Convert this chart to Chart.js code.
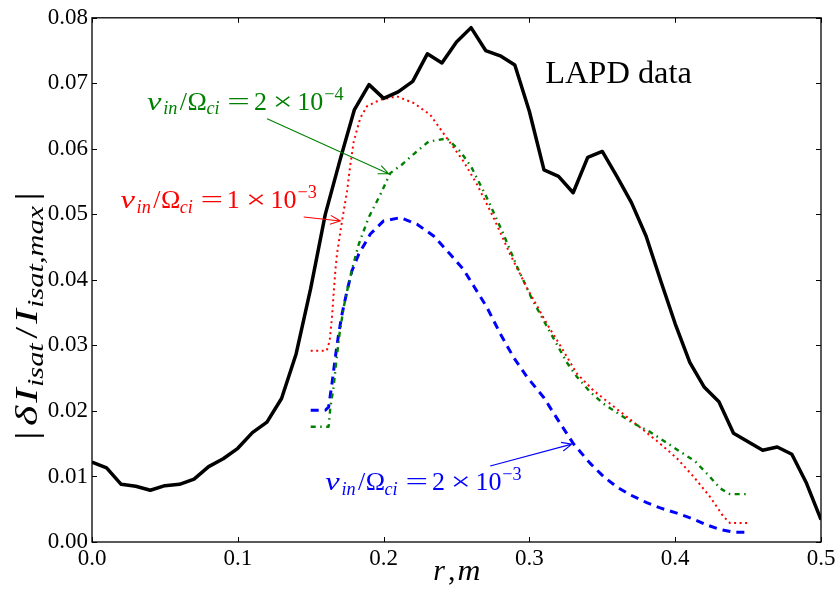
<!DOCTYPE html>
<html>
<head>
<meta charset="utf-8">
<script src="https://cdn.jsdelivr.net/npm/chart.js@4"></script>
<style>
  html, body { margin: 0; padding: 0; background: #fff; }
  #wrap { width: 839px; height: 592px; position: relative; }
</style>
</head>
<body>
<div id="wrap"><canvas id="chart"></canvas></div>
<script>
// LAPD measurement, r = 0 .. 0.5 m
const radiusLapd = [0.00, 0.01, 0.02, 0.03, 0.04, 0.05, 0.06, 0.07, 0.08, 0.09,
                    0.10, 0.11, 0.12, 0.13, 0.14, 0.15, 0.16, 0.17, 0.18, 0.19,
                    0.20, 0.21, 0.22, 0.23, 0.24, 0.25, 0.26, 0.27, 0.28, 0.29,
                    0.30, 0.31, 0.32, 0.33, 0.34, 0.35, 0.36, 0.37, 0.38, 0.39,
                    0.40, 0.41, 0.42, 0.43, 0.44, 0.45, 0.46, 0.47, 0.48, 0.49, 0.50];
const ampLapd = [0.0122, 0.0113, 0.0088, 0.0085, 0.0079, 0.0086, 0.0088, 0.0096, 0.0115, 0.0127,
                 0.0143, 0.0167, 0.0183, 0.0219, 0.0287, 0.0387, 0.0500, 0.0582, 0.0660, 0.0698,
                 0.0677, 0.0687, 0.0703, 0.0745, 0.0731, 0.0763, 0.0785, 0.0750, 0.0742, 0.0728,
                 0.0657, 0.0568, 0.0558, 0.0533, 0.0587, 0.0596, 0.0558, 0.0518, 0.0467, 0.0399,
                 0.0333, 0.0274, 0.0236, 0.0214, 0.0166, 0.0153, 0.0140, 0.0145, 0.0134, 0.0090, 0.0034];

// simulation, nu_in/Omega_ci = 1e-3 (red)
const radiusNu1e3 = [0.150, 0.161, 0.163, 0.1646, 0.1657, 0.1669, 0.168, 0.1715, 0.1749, 0.1772,
                     0.1795, 0.184, 0.1886, 0.1977, 0.2092, 0.2206, 0.232, 0.2435, 0.2548, 0.264,
                     0.2754, 0.2868, 0.2983, 0.312, 0.3211, 0.3326, 0.344, 0.3554, 0.3668, 0.3782,
                     0.3897, 0.4011, 0.4125, 0.4239, 0.433, 0.4376, 0.450];
const ampNu1e3 = [0.0292, 0.0292, 0.0307, 0.0343, 0.0378, 0.0414, 0.0439, 0.0490, 0.0535, 0.0576,
                  0.0611, 0.0647, 0.0665, 0.0675, 0.0680, 0.0670, 0.0652, 0.0616, 0.0581, 0.0546,
                  0.0495, 0.0439, 0.0388, 0.0333, 0.0300, 0.0257, 0.0231, 0.0211, 0.0191, 0.0171,
                  0.0150, 0.0128, 0.0100, 0.0069, 0.0039, 0.0029, 0.0029];

// simulation, nu_in/Omega_ci = 2e-4 (green)
const radiusNu2e4 = [0.150, 0.1623, 0.1635, 0.1657, 0.1676, 0.1698, 0.1726, 0.176, 0.1795, 0.1829,
                     0.1897, 0.1977, 0.2046, 0.2126, 0.2217, 0.2308, 0.2435, 0.2526, 0.260, 0.2709,
                     0.2812, 0.2914, 0.3017, 0.313, 0.3257, 0.3326, 0.3417, 0.3508, 0.3611, 0.3714,
                     0.3828, 0.3931, 0.4034, 0.4137, 0.4228, 0.4308, 0.4376, 0.450];
const ampNu2e4 = [0.0176, 0.0176, 0.0206, 0.0236, 0.0277, 0.0318, 0.0358, 0.0394, 0.0426, 0.0454,
                  0.0495, 0.0530, 0.0563, 0.0576, 0.0594, 0.0611, 0.0616, 0.0596, 0.0573, 0.0525,
                  0.0475, 0.0421, 0.0371, 0.0325, 0.0274, 0.0252, 0.0229, 0.0211, 0.0196, 0.0181,
                  0.0168, 0.0153, 0.0138, 0.0123, 0.0102, 0.0082, 0.0073, 0.0073];

// simulation, nu_in/Omega_ci = 2e-3 (blue)
const radiusNu2e3 = [0.150, 0.160, 0.1623, 0.1646, 0.1669, 0.1692, 0.1715, 0.1749, 0.1783, 0.1829,
                     0.1909, 0.200, 0.2114, 0.2229, 0.2343, 0.2457, 0.2548, 0.2617, 0.2709, 0.280,
                     0.2891, 0.2983, 0.3097, 0.3211, 0.3302, 0.3417, 0.3508, 0.360, 0.3691, 0.3805,
                     0.3897, 0.4011, 0.4125, 0.4217, 0.4308, 0.4399, 0.450];
const ampNu2e3 = [0.0201, 0.0201, 0.0206, 0.0242, 0.0282, 0.0318, 0.0348, 0.0383, 0.0414, 0.0439,
                  0.0470, 0.0490, 0.0495, 0.0485, 0.0467, 0.0439, 0.0416, 0.0391, 0.0358, 0.0318,
                  0.0282, 0.0252, 0.0221, 0.0181, 0.0150, 0.0120, 0.0100, 0.0084, 0.0072, 0.0060,
                  0.0052, 0.0044, 0.0035, 0.0026, 0.0019, 0.0015, 0.0015];

const xTicks = [0.0, 0.1, 0.2, 0.3, 0.4, 0.5];
const yTicks = [0.00, 0.01, 0.02, 0.03, 0.04, 0.05, 0.06, 0.07, 0.08];

const serif = '"Liberation Serif", "DejaVu Serif", serif';
const GREEN = '#008000', RED = '#ff0000', BLUE = '#0000ff';

function toPoints(xs, ys) {
    return xs.map((x, i) => ({ x: x, y: ys[i] }));
}

function mathFont(italic, level, size) {
    const fs = level === 0 ? size : size * 0.7;
    return (italic ? 'italic ' : '') + fs + 'px ' + serif;
}

function levelShift(level, size) {
    return level < 0 ? size * 0.19 : (level > 0 ? -size * 0.38 : 0);
}

// boxed layout: [text, italic, level (0 base, -1 sub, 1 sup), boxStart, boxEnd, stretch]
function drawMath(ctx, pieces, size, color) {
    ctx.fillStyle = color;
    ctx.textAlign = 'left';
    ctx.textBaseline = 'alphabetic';
    pieces.forEach(([text, italic, level, b0, b1, stretch]) => {
        ctx.font = mathFont(italic, level, size);
        const m = ctx.measureText(text);
        const ink = m.actualBoundingBoxLeft + m.actualBoundingBoxRight;
        const box = b1 - b0;
        const sx = stretch ? box / ink : 1;
        ctx.save();
        ctx.translate(b0 + (box - ink * sx) / 2, levelShift(level, size));
        ctx.scale(sx, 1);
        ctx.fillText(text, m.actualBoundingBoxLeft, 0);
        ctx.restore();
    });
}

// flowing layout squeezed/stretched to a target length: [text, italic, level, gapBefore(em)]
function drawMathFlow(ctx, pieces, size, color, target) {
    ctx.fillStyle = color;
    ctx.textAlign = 'left';
    ctx.textBaseline = 'alphabetic';
    let total = 0;
    const widths = pieces.map(([text, italic, level, gap]) => {
        ctx.font = mathFont(italic, level, size);
        const w = ctx.measureText(text).width;
        total += gap * size + w;
        return w;
    });
    ctx.save();
    ctx.scale(target / total, 1);
    let cx = 0;
    pieces.forEach(([text, italic, level, gap], i) => {
        cx += gap * size;
        ctx.font = mathFont(italic, level, size);
        ctx.fillText(text, cx, levelShift(level, size));
        cx += widths[i];
    });
    ctx.restore();
}

function nuLabel(mant, exp) {
    return [
        ['ν', 1, 0, 0, 15, true], ['in', 1, -1, 16.2, 31.2], ['/', 0, 0, 31.7, 41.7],
        ['Ω', 0, 0, 41.7, 58.3], ['ci', 1, -1, 58.3, 73.3], ['=', 0, 0, 81.7, 101.7, true],
        [mant, 0, 0, 108.3, 118.3], ['×', 0, 0, 128.3, 143.3, true], ['10', 0, 0, 153.3, 175],
        ['−' + exp, 0, 1, 176.7, 196.7]
    ];
}

const yLabel = [
    ['|', 0, 0, 0], ['δ', 1, 0, 0.12], ['I', 1, 0, 0.07], ['isat', 1, -1, 0.03],
    ['/', 0, 0, 0.1], ['I', 1, 0, 0.07], ['isat,max', 1, -1, 0.03], ['|', 0, 0, 0.12]
];
const xLabel = [['r', 1, 0, 0, 13.3], [',', 0, 0, 16.5, 20.5], ['m', 1, 0, 25.5, 46.7, true]];

const notes = [
    { at: [0.0378, 0.0660], pieces: nuLabel('2', '4'), color: GREEN, arrow: [[0.1201, 0.0646], [0.2034, 0.0562]] },
    { at: [0.0195, 0.0510], pieces: nuLabel('1', '3'), color: RED, arrow: [[0.1452, 0.0496], [0.1703, 0.0490]] },
    { at: [0.1600, 0.00795], pieces: nuLabel('2', '3'), color: BLUE, arrow: [[0.2731, 0.0116], [0.3291, 0.01494]] }
];

function drawArrow(ctx, x0, y0, x1, y1, color) {
    const a = Math.atan2(y1 - y0, x1 - x0);
    const len = 11, spread = 0.42;
    ctx.strokeStyle = color;
    ctx.lineWidth = 1.1;
    ctx.beginPath();
    ctx.moveTo(x0, y0);
    ctx.lineTo(x1, y1);
    ctx.moveTo(x1 - len * Math.cos(a - spread), y1 - len * Math.sin(a - spread));
    ctx.lineTo(x1, y1);
    ctx.lineTo(x1 - len * Math.cos(a + spread), y1 - len * Math.sin(a + spread));
    ctx.stroke();
}

const decorPlugin = {
    id: 'decor',
    afterDatasetsDraw(chart) {
        const { ctx, chartArea: area, scales: { x, y } } = chart;
        ctx.save();

        // frame and inward ticks on all four sides
        ctx.strokeStyle = '#000';
        ctx.lineWidth = 1.3;
        ctx.strokeRect(area.left, area.top, area.right - area.left, area.bottom - area.top);
        ctx.lineWidth = 1;
        ctx.beginPath();
        xTicks.forEach(v => {
            const px = Math.round(x.getPixelForValue(v)) + 0.5;
            ctx.moveTo(px, area.bottom); ctx.lineTo(px, area.bottom - 5);
            ctx.moveTo(px, area.top); ctx.lineTo(px, area.top + 5);
        });
        yTicks.forEach(v => {
            const py = Math.round(y.getPixelForValue(v)) + 0.5;
            ctx.moveTo(area.left, py); ctx.lineTo(area.left + 5, py);
            ctx.moveTo(area.right, py); ctx.lineTo(area.right - 5, py);
        });
        ctx.stroke();

        // annotations
        notes.forEach(n => {
            const [a0, a1] = n.arrow;
            drawArrow(ctx, x.getPixelForValue(a0[0]), y.getPixelForValue(a0[1]),
                      x.getPixelForValue(a1[0]), y.getPixelForValue(a1[1]), n.color);
            ctx.save();
            ctx.translate(x.getPixelForValue(n.at[0]), y.getPixelForValue(n.at[1]));
            drawMath(ctx, n.pieces, 26, n.color);
            ctx.restore();
        });

        ctx.save();
        ctx.translate(x.getPixelForValue(0.3108), y.getPixelForValue(0.0701));
        drawMath(ctx, [['LAPD data', 0, 0, 0, 147, true]], 31, '#000');
        ctx.restore();

        // axis titles
        ctx.save();
        ctx.translate(433, 580);
        drawMath(ctx, xLabel, 30, '#000');
        ctx.restore();

        ctx.save();
        ctx.translate(37, 440);
        ctx.rotate(-Math.PI / 2);
        drawMathFlow(ctx, yLabel, 32, '#000', 248);
        ctx.restore();

        ctx.restore();
    }
};

document.addEventListener('DOMContentLoaded', () => {
    const tickFont = { family: serif, size: 23 };

    new Chart(document.getElementById('chart'), {
        type: 'line',
        data: {
            datasets: [
                { label: 'LAPD data', data: toPoints(radiusLapd, ampLapd),
                  borderColor: '#000', borderWidth: 3.5, order: 0 },
                { label: 'nu 1e-3', data: toPoints(radiusNu1e3, ampNu1e3),
                  borderColor: RED, borderWidth: 2, borderDash: [2, 3.5], order: 1 },
                { label: 'nu 2e-4', data: toPoints(radiusNu2e4, ampNu2e4),
                  borderColor: GREEN, borderWidth: 2.4, borderDash: [5, 4.5, 1.5, 4.5], order: 2 },
                { label: 'nu 2e-3', data: toPoints(radiusNu2e3, ampNu2e3),
                  borderColor: BLUE, borderWidth: 3, borderDash: [8, 6], order: 3 }
            ]
        },
        options: {
            responsive: true,
            maintainAspectRatio: false,
            animation: false,
            layout: { padding: { top: 16, right: 18, left: 0, bottom: 0 } },
            elements: {
                point: { radius: 0 },
                line: { tension: 0, fill: false, borderCapStyle: 'butt', borderJoinStyle: 'round' }
            },
            plugins: { legend: { display: false }, tooltip: { enabled: false } },
            scales: {
                x: {
                    type: 'linear', min: 0, max: 0.5,
                    grid: { display: false, tickLength: 0 }, border: { display: false },
                    afterBuildTicks: s => { s.ticks = xTicks.map(v => ({ value: v })); },
                    afterFit: s => { s.height = 50; },
                    ticks: { font: tickFont, color: '#000', padding: 3, maxRotation: 0, autoSkip: false,
                             callback: v => v.toFixed(1) }
                },
                y: {
                    type: 'linear', min: 0, max: 0.08,
                    grid: { display: false, tickLength: 0 }, border: { display: false },
                    afterBuildTicks: s => { s.ticks = yTicks.map(v => ({ value: v })); },
                    afterFit: s => { s.width = 92; },
                    ticks: { font: tickFont, color: '#000', padding: 4, autoSkip: false,
                             callback: v => v.toFixed(2) }
                }
            }
        },
        plugins: [decorPlugin]
    });
});
</script>
</body>
</html>
